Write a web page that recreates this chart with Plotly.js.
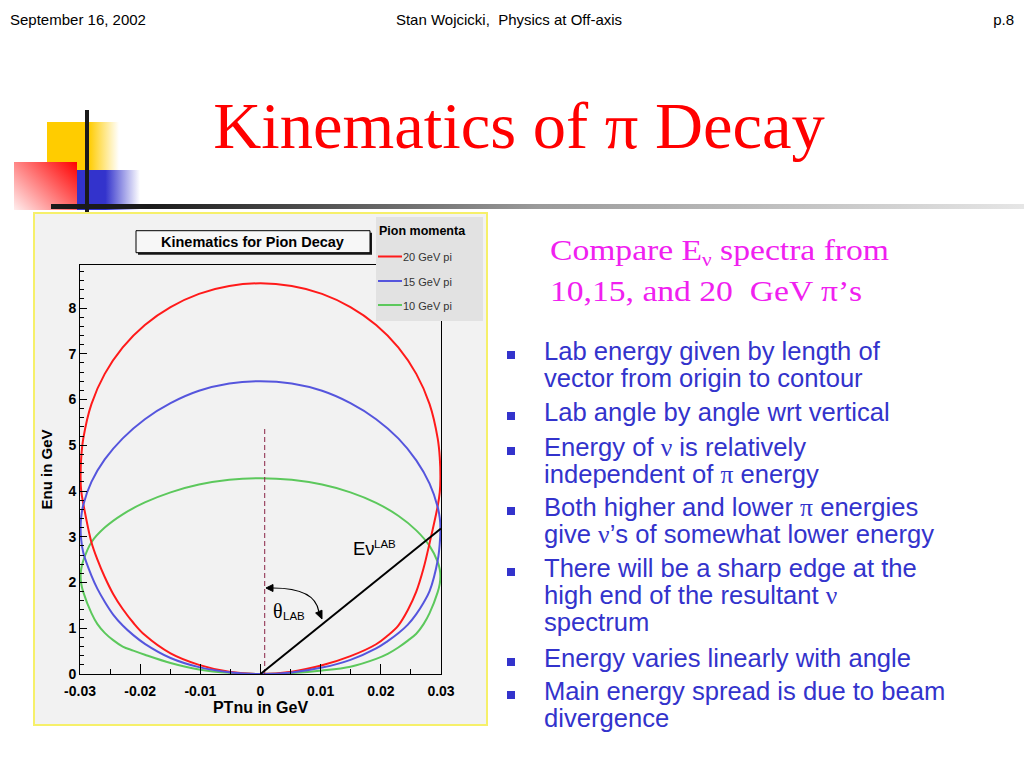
<!DOCTYPE html>
<html>
<head>
<meta charset="utf-8">
<script src="https://cdn.plot.ly/plotly-3.0.1.min.js"></script>
<style>
  html, body { margin:0; padding:0; background:#fff; }
  #page { position:relative; width:1024px; height:768px; overflow:hidden; background:#fff; }
  .abs { position:absolute; }
  .hdr { font-family:"Liberation Sans",Arial,sans-serif; font-size:15px; line-height:15px; color:#000; white-space:nowrap; }
  .bul { position:absolute; left:544px; font-family:"Liberation Sans",Arial,sans-serif; font-size:25.6px; line-height:27px; color:#3333cc; white-space:nowrap; }
  .sq { position:absolute; left:507px; width:8px; height:8px; background:#3333cc; }
  .gr { font-family:"Liberation Serif","DejaVu Serif",serif; font-size:25.6px; }
</style>
</head>
<body>
<div id="page">
  <!-- header -->
  <div class="abs hdr" style="left:10px; top:12px;">September 16, 2002</div>
  <div class="abs hdr" style="left:309px; top:12px; width:400px; text-align:center;">Stan Wojcicki,&nbsp; Physics at Off-axis</div>
  <div class="abs hdr" style="left:900px; top:12px; width:114px; text-align:right;">p.8</div>

  <!-- decoration -->
  <div class="abs" style="left:47px; top:122px; width:72px; height:48px; background:linear-gradient(to right,#ffcc00 0%,#ffcc00 58%,#ffffff 100%);"></div>
  <div class="abs" style="left:14px; top:162px; width:63px; height:48px; background:linear-gradient(225deg,#ff0000 0%,#ffeeee 100%);"></div>
  <div class="abs" style="left:77px; top:170px; width:63px; height:40px; background:linear-gradient(to right,#3333cc 0%,#3333cc 45%,#ffffff 100%);"></div>
  <div class="abs" style="left:85px; top:110px; width:4px; height:102px; background:#1a1a1a;"></div>
  <div class="abs" style="left:51px; top:204px; width:973px; height:5px; background:linear-gradient(to right,#1a1a1a 0%,#1a1a1a 10%,#9a9a9a 50%,#e6e6e6 100%);"></div>

  <!-- title -->
  <div class="abs" style="left:19px; top:93px; width:1000px; text-align:center; font-family:'Liberation Serif','Times New Roman',serif; font-size:66.5px; line-height:66px; color:#ff0000; white-space:nowrap;">Kinematics of π Decay</div>

  <!-- compare text -->
  <div class="abs" style="left:550px; top:230px; font-family:'Liberation Serif','Times New Roman',serif; font-size:30px; line-height:40.5px; color:#f020f0; white-space:nowrap; transform:scaleX(1.12); transform-origin:left top;">Compare E<span style="font-size:19px; line-height:0; position:relative; top:6px;">ν</span> spectra from<br>10,15, and 20&nbsp; GeV π’s</div>

  <!-- bullets -->
  <div class="sq" style="top:351px;"></div>
  <div class="bul" style="top:338px;">Lab energy given by length of<br>vector from origin to contour</div>
  <div class="sq" style="top:412px;"></div>
  <div class="bul" style="top:399px;">Lab angle by angle wrt vertical</div>
  <div class="sq" style="top:447px;"></div>
  <div class="bul" style="top:434px;">Energy of <span class="gr">ν</span> is relatively<br>independent of <span class="gr">π</span> energy</div>
  <div class="sq" style="top:507px;"></div>
  <div class="bul" style="top:494px;">Both higher and lower <span class="gr">π</span> energies<br>give <span class="gr">ν</span>’s of somewhat lower energy</div>
  <div class="sq" style="top:568px;"></div>
  <div class="bul" style="top:555px;">There will be a sharp edge at the<br>high end of the resultant <span class="gr">ν</span><br>spectrum</div>
  <div class="sq" style="top:658px;"></div>
  <div class="bul" style="top:645px;">Energy varies linearly with angle</div>
  <div class="sq" style="top:691px;"></div>
  <div class="bul" style="top:678px;">Main energy spread is due to beam<br>divergence</div>

  <!-- chart panel -->
  <div class="abs" style="left:33px; top:212px; width:451px; height:510px; border:2px solid #f6f06a; background:#f2f2f2;">
    <div id="chart" style="width:451px; height:510px;"></div>
  </div>
</div>

<script>
// ---- data ----
// Each contour is traced once round: from the origin up the right-hand lower branch,
// over the top and down the left-hand side back to the origin.
const seriesNames = ['20 GeV pi', '15 GeV pi', '10 GeV pi'];
const seriesColors = ['#ff1a1a', '#5555dd', '#5cc85c'];

// PTnu (GeV) of the traced points, shared by the three contours
const ptX = [0, 0.00519, 0.01023, 0.01495, 0.01922, 0.02114, 0.02290, 0.02449, 0.02589, 0.02710, 0.02810, 0.02945, 0.02979, 0.0299,
             0.02979, 0.02945, 0.02810, 0.02589, 0.02290, 0.01922, 0.01495, 0.01023, 0.00519, 0,
             -0.00519, -0.01023, -0.01495, -0.01922, -0.02290, -0.02589, -0.02810, -0.02945, -0.02979, -0.0299,
             -0.02979, -0.02945, -0.02810, -0.02710, -0.02589, -0.02449, -0.02290, -0.02114, -0.01922, -0.01495, -0.01023, -0.00519, 0];

// Enu (GeV) of the traced points
const red20Y = [0, 0.05, 0.19, 0.39, 0.65, 0.84, 1.06, 1.40, 1.80, 2.31, 2.86, 3.67, 3.97, 4.27,
                4.74, 5.15, 5.90, 6.56, 7.14, 7.63, 8.02, 8.31, 8.48, 8.54,
                8.48, 8.31, 8.02, 7.63, 7.14, 6.56, 5.90, 5.15, 4.74, 4.27,
                3.99, 3.72, 2.88, 2.50, 2.12, 1.75, 1.42, 1.12, 0.85, 0.45, 0.20, 0.05, 0];
const blue15Y = [0, 0.035, 0.14, 0.31, 0.56, 0.72, 0.89, 1.08, 1.31, 1.56, 1.81, 2.48, 2.85, 3.20,
                 3.41, 3.65, 4.16, 4.67, 5.15, 5.57, 5.92, 6.19, 6.35, 6.40,
                 6.35, 6.19, 5.92, 5.57, 5.15, 4.69, 4.20, 3.70, 3.44, 3.20,
                 2.92, 2.65, 2.15, 1.86, 1.58, 1.30, 1.06, 0.85, 0.66, 0.35, 0.15, 0.04, 0];
const green10Y = [0, 0.02, 0.075, 0.16, 0.33, 0.44, 0.58, 0.73, 0.88, 1.09, 1.33, 1.79, 1.97, 2.14,
                  2.29, 2.45, 2.80, 3.14, 3.46, 3.74, 3.97, 4.14, 4.245, 4.28,
                  4.245, 4.14, 3.97, 3.75, 3.49, 3.20, 2.88, 2.48, 2.30, 2.14,
                  1.97, 1.79, 1.33, 1.09, 0.90, 0.74, 0.60, 0.51, 0.42, 0.24, 0.10, 0.025, 0];

const vecX = [0, 0.03];          // E_nu LAB vector
const vecY = [0, 3.18];
const vertX = [0.0007, 0.0007];  // dashed vertical reference
const vertY = [0, 5.4];

const xTickVals = [-0.03, -0.02, -0.01, 0, 0.01, 0.02, 0.03];
const xTickText = ['-0.03', '-0.02', '-0.01', '0', '0.01', '0.02', '0.03'];
const xMinorVals = [-0.025, -0.015, -0.005, 0.005, 0.015, 0.025];
const yTickVals = [0, 1, 2, 3, 4, 5, 6, 7, 8];
const yTickText = ['0', '1', '2', '3', '4', '5', '6', '7', '8'];

// ---- figure ----
const FONT = 'Liberation Sans, Arial, Helvetica, sans-serif';
function curve(y, i) {
  return {x: ptX, y: y, type: 'scatter', mode: 'lines', name: seriesNames[i],
          line: {color: seriesColors[i], width: 2, shape: 'spline', smoothing: 1},
          hoverinfo: 'skip'};
}
const traces = [
  curve(green10Y, 2),
  curve(red20Y, 0),
  curve(blue15Y, 1),
  {x: vertX, y: vertY, type: 'scatter', mode: 'lines', line: {color: '#882244', width: 1, dash: '5px,3px'}, hoverinfo: 'skip'},
  {x: vecX, y: vecY, type: 'scatter', mode: 'lines', line: {color: '#000', width: 2}, hoverinfo: 'skip'}
];

// paper coordinate helpers for the overlay boxes (plot area 361 x 409 px)
const px = v => (v - 80) / 361;
const py = v => (674 - v) / 409;

const shapes = [
  {type: 'rect', xref: 'paper', yref: 'paper', x0: px(138), x1: px(372), y0: py(254.7), y1: py(232.7),
   fillcolor: '#1a1a1a', line: {width: 0}, layer: 'above'},
  {type: 'rect', xref: 'paper', yref: 'paper', x0: px(136), x1: px(370), y0: py(252.7), y1: py(230.7),
   fillcolor: '#f7f7f7', line: {color: '#000', width: 1}, layer: 'above'},
  {type: 'rect', xref: 'paper', yref: 'paper', x0: px(376), x1: px(483), y0: py(321), y1: py(217),
   fillcolor: '#e2e2e2', line: {width: 0}, layer: 'above'},
  {type: 'line', xref: 'paper', yref: 'paper', x0: px(378), x1: px(402), y0: py(256.5), y1: py(256.5), line: {color: seriesColors[0], width: 2}, layer: 'above'},
  {type: 'line', xref: 'paper', yref: 'paper', x0: px(378), x1: px(402), y0: py(281), y1: py(281), line: {color: seriesColors[1], width: 2}, layer: 'above'},
  {type: 'line', xref: 'paper', yref: 'paper', x0: px(378), x1: px(402), y0: py(305), y1: py(305), line: {color: seriesColors[2], width: 2}, layer: 'above'},
  // theta arc with its two arrow heads
  {type: 'path', xref: 'x', yref: 'y', path: 'M 0.00208,1.880 Q 0.00906,1.880 0.00970,1.364', line: {color: '#000', width: 1.2}},
  {type: 'path', xref: 'x', yref: 'y', path: 'M 0.00091,1.880 L 0.00208,1.956 L 0.00208,1.803 Z', fillcolor: '#000', line: {color: '#000', width: 1}},
  {type: 'path', xref: 'x', yref: 'y', path: 'M 0.01022,1.202 L 0.01022,1.395 L 0.00916,1.333 Z', fillcolor: '#000', line: {color: '#000', width: 1}}
];

const annotations = [
  {xref: 'paper', yref: 'paper', x: px(252.3), y: py(241.5), text: 'Kinematics for Pion Decay', showarrow: false,
   xanchor: 'center', yanchor: 'middle', font: {family: FONT, size: 14.5, weight: 'bold', color: '#000'}},
  {xref: 'paper', yref: 'paper', x: px(377), y: py(231), text: 'Pion momenta', showarrow: false,
   xanchor: 'left', yanchor: 'middle', font: {family: FONT, size: 12.5, weight: 'bold', color: '#000'}},
  {xref: 'paper', yref: 'paper', x: px(401), y: py(257.3), text: seriesNames[0], showarrow: false,
   xanchor: 'left', yanchor: 'middle', font: {family: FONT, size: 11, color: '#333'}},
  {xref: 'paper', yref: 'paper', x: px(401), y: py(281.7), text: seriesNames[1], showarrow: false,
   xanchor: 'left', yanchor: 'middle', font: {family: FONT, size: 11, color: '#333'}},
  {xref: 'paper', yref: 'paper', x: px(401), y: py(305.7), text: seriesNames[2], showarrow: false,
   xanchor: 'left', yanchor: 'middle', font: {family: FONT, size: 11, color: '#333'}},
  // E_nu^LAB label
  {xref: 'x', yref: 'y', x: 0.01504, y: 2.748, text: 'Eν', showarrow: false,
   xanchor: 'left', yanchor: 'middle', font: {family: FONT, size: 18.5, color: '#000'}},
  {xref: 'x', yref: 'y', x: 0.01853, y: 2.831, text: 'LAB', showarrow: false,
   xanchor: 'left', yanchor: 'middle', font: {family: FONT, size: 11.5, color: '#000'}},
  // theta_LAB label
  {xref: 'x', yref: 'y', x: 0.00175, y: 1.388, text: 'θ', showarrow: false,
   xanchor: 'left', yanchor: 'middle', font: {family: 'Liberation Serif, DejaVu Serif, serif', size: 20, color: '#000'}},
  {xref: 'x', yref: 'y', x: 0.00339, y: 1.263, text: 'LAB', showarrow: false,
   xanchor: 'left', yanchor: 'middle', font: {family: FONT, size: 11.5, color: '#000'}}
];

const layout = {
  width: 451, height: 510,
  margin: {l: 45, r: 45, t: 51, b: 50, pad: 0},
  paper_bgcolor: '#f2f2f2', plot_bgcolor: '#f2f2f2',
  showlegend: false,
  font: {family: FONT, color: '#000'},
  xaxis: {
    range: [-0.03, 0.03], tickmode: 'array', tickvals: xTickVals, ticktext: xTickText,
    ticks: 'inside', ticklen: 10, tickwidth: 1, tickcolor: '#000',
    minor: {tickmode: 'array', tickvals: xMinorVals, ticks: 'inside', ticklen: 5, tickcolor: '#000', showgrid: false},
    showline: true, linecolor: '#000', linewidth: 1, mirror: true,
    showgrid: false, zeroline: false, automargin: false, fixedrange: true,
    tickfont: {family: FONT, size: 14, weight: 'bold', color: '#000'},
    ticklabelstandoff: 4,
    title: {text: 'PTnu in GeV', font: {family: FONT, size: 16, weight: 'bold', color: '#000'}, standoff: 0}
  },
  yaxis: {
    range: [0, 8.94], tickmode: 'array', tickvals: yTickVals, ticktext: yTickText,
    ticks: 'inside', ticklen: 7, tickwidth: 1, tickcolor: '#000',
    minor: {dtick: 0.2, ticks: 'inside', ticklen: 4, tickcolor: '#000', showgrid: false},
    showline: true, linecolor: '#000', linewidth: 1, mirror: true,
    showgrid: false, zeroline: false, automargin: false, fixedrange: true,
    tickfont: {family: FONT, size: 14, weight: 'bold', color: '#000'},
    title: {text: 'Enu in GeV', font: {family: FONT, size: 15, weight: 'bold', color: '#000'}, standoff: 12}
  },
  shapes: shapes,
  annotations: annotations
};

Plotly.newPlot('chart', traces, layout, {staticPlot: true, displayModeBar: false});
</script>
</body>
</html>
